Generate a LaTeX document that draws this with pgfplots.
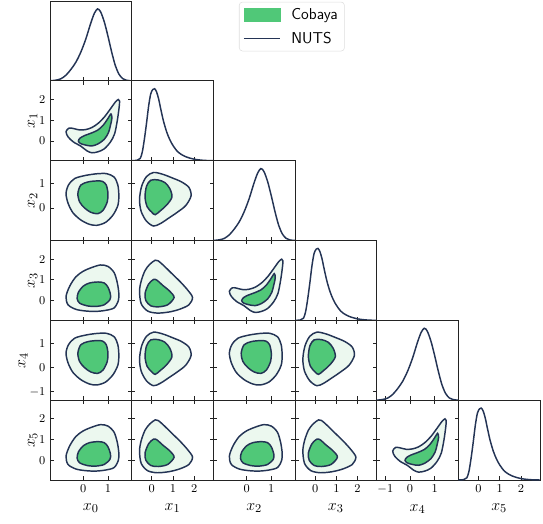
\documentclass[border=0pt]{standalone}
\usepackage{pgfplots}
\pgfplotsset{compat=1.18}
\usepackage{pgfplotstable}
\definecolor{nuts}{RGB}{36,52,85}
\definecolor{cobin}{RGB}{80,200,120}
\definecolor{cobout}{RGB}{236,248,239}
\definecolor{frame}{RGB}{35,35,35}

% ---- type A: banana (even var horizontal, paired odd var vertical)
\pgfplotstableread{
x y
1.42 2.00
1.30 1.88
1.10 1.55
0.85 1.15
0.60 0.85
0.35 0.65
0.10 0.55
-0.15 0.53
-0.40 0.60
-0.58 0.62
-0.70 0.45
-0.62 0.20
-0.40 -0.05
-0.10 -0.25
0.15 -0.48
0.35 -0.57
0.60 -0.52
0.85 -0.38
1.10 -0.05
1.27 0.35
1.38 1.00
1.45 1.60
1.47 1.92
}\Aout
\pgfplotstableread{
x y
1.12 1.30
0.98 1.05
0.80 0.75
0.58 0.52
0.30 0.37
0.05 0.26
-0.13 0.14
-0.20 0.00
-0.12 -0.12
0.10 -0.20
0.35 -0.24
0.60 -0.14
0.85 0.08
1.02 0.40
1.10 0.75
1.16 1.10
}\Ain
% ---- type B: even vs even
\pgfplotstableread{
x y
0.58 1.42
0.10 1.35
-0.35 1.22
-0.60 0.95
-0.70 0.60
-0.62 0.20
-0.42 -0.20
-0.10 -0.50
0.25 -0.68
0.55 -0.72
0.90 -0.60
1.20 -0.30
1.40 0.10
1.44 0.50
1.40 0.95
1.25 1.28
0.95 1.42
}\Bout
\pgfplotstableread{
x y
0.55 1.12
0.20 1.08
-0.10 0.95
-0.22 0.60
-0.15 0.25
0.05 0.00
0.30 -0.18
0.58 -0.24
0.80 -0.10
0.97 0.25
1.00 0.60
0.93 0.95
0.78 1.10
}\Bin
% ---- type C: even horizontal, odd vertical (unpaired)
\pgfplotstableread{
x y
0.70 1.72
0.35 1.60
0.00 1.42
-0.30 1.15
-0.55 0.70
-0.70 0.20
-0.62 -0.20
-0.30 -0.42
0.10 -0.50
0.50 -0.52
0.90 -0.47
1.25 -0.35
1.42 0.00
1.44 0.35
1.38 0.85
1.25 1.35
1.00 1.65
}\Cout
\pgfplotstableread{
x y
0.60 0.90
0.25 0.85
0.00 0.70
-0.20 0.40
-0.25 0.10
-0.15 -0.12
0.15 -0.25
0.50 -0.28
0.85 -0.20
1.08 0.05
1.10 0.30
1.00 0.65
0.85 0.85
}\Cin
% ---- type D: odd horizontal, even vertical
\pgfplotstableread{
x y
0.08 1.47
-0.25 1.30
-0.48 0.90
-0.58 0.35
-0.50 -0.15
-0.25 -0.55
0.08 -0.75
0.40 -0.65
0.80 -0.42
1.20 -0.18
1.60 0.10
1.85 0.50
1.75 0.85
1.40 1.08
0.95 1.25
0.50 1.40
}\Dout
\pgfplotstableread{
x y
-0.05 1.15
-0.25 0.90
-0.32 0.45
-0.22 0.05
0.00 -0.18
0.16 -0.28
0.40 -0.12
0.70 0.12
0.95 0.45
0.85 0.80
0.62 1.05
0.30 1.16
}\Din
% ---- type E: odd vs odd
\pgfplotstableread{
x y
0.16 1.95
-0.10 1.75
-0.32 1.45
-0.50 0.95
-0.58 0.45
-0.50 -0.15
-0.20 -0.50
0.25 -0.60
0.80 -0.55
1.30 -0.42
1.75 -0.20
1.92 0.15
1.70 0.50
1.35 0.90
0.95 1.30
0.55 1.70
0.30 1.92
}\Eout
\pgfplotstableread{
x y
0.08 1.02
-0.15 0.80
-0.32 0.35
-0.28 0.00
-0.05 -0.25
0.30 -0.30
0.75 -0.20
1.05 0.15
0.85 0.45
0.50 0.75
0.25 0.98
}\Ein
% ---- 1D densities
\pgfplotstableread{
x y
-1.35 0.0
-1.10 0.01
-0.90 0.03
-0.70 0.08
-0.50 0.16
-0.30 0.26
-0.10 0.40
0.10 0.58
0.30 0.80
0.45 0.94
0.58 1.00
0.70 0.96
0.85 0.82
1.00 0.62
1.15 0.40
1.30 0.21
1.45 0.09
1.60 0.03
1.75 0.008
1.96 0.0
}\Deven
\pgfplotstableread{
x y
-0.95 0.0
-0.70 0.005
-0.55 0.03
-0.45 0.12
-0.35 0.30
-0.25 0.52
-0.15 0.76
-0.05 0.93
0.05 0.99
0.13 1.00
0.22 0.96
0.32 0.86
0.42 0.72
0.55 0.55
0.70 0.40
0.85 0.29
1.00 0.21
1.20 0.13
1.40 0.085
1.60 0.055
1.80 0.035
2.00 0.02
2.30 0.008
2.60 0.002
2.90 0.0
}\Dodd

\pgfplotsset{
  tri/.style={scale only axis, width=61.25pt, height=59.875pt, anchor=north west,
    axis line style={draw=frame, line width=0.7pt},
    every tick/.style={draw=frame, line width=0.6pt},
    major tick length=2.8pt, tick align=inside,
    tick label style={font=\fontsize{9.5}{11}\selectfont},
    label style={font=\fontsize{13}{15}\selectfont},
    xlabel style={at={(ticklabel cs:0.5,1.5pt)}},
    ylabel style={at={(ticklabel cs:0.5,-5.5pt)}}},
  pos/.style 2 args={at={({37.5pt+61.25pt*#2},{-0.75pt-59.875pt*#1})}},
  xev/.style={xmin=-1.35,xmax=1.96,xtick={0,1}},
  xevf/.style={xmin=-1.35,xmax=1.96,xtick={-1,0,1}},
  xod/.style={xmin=-0.95,xmax=2.9,xtick={0,1,2}},
  yev/.style={ymin=-1.35,ymax=1.96,ytick={0,1}},
  yevf/.style={ymin=-1.35,ymax=1.96,ytick={-1,0,1}},
  yod/.style={ymin=-0.95,ymax=2.9,ytick={0,1,2}},
  noxl/.style={xticklabels={}},
  noyl/.style={yticklabels={}},
  diag/.style={tri, ymin=0, ymax=1.11, ytick=\empty, xtick pos=left},
  outer/.style={smooth cycle, fill=cobout, draw=nuts, line width=1.1pt},
  inner/.style={smooth cycle, fill=cobin, draw=nuts, line width=1.1pt},
  dens/.style={smooth, draw=nuts, line width=1.1pt},
}

\begin{document}
\begin{tikzpicture}
\path[use as bounding box] (0pt,0pt) rectangle (407.25pt,-393pt);

% row 0
\begin{axis}[diag, pos={0}{0}, xev, noxl,
  legend style={at={(2.314,0.99)}, anchor=north west, draw=black!13, rounded corners=2.5pt,
    font=\sffamily\fontsize{11.8}{13}\selectfont, inner xsep=3pt, inner ysep=2.5pt,
    row sep=4pt, cells={anchor=west},
    /tikz/every odd column/.append style={column sep=6pt}}]
\addlegendimage{legend image code/.code={\fill[cobin, sharp corners] (0pt,-4.7pt) rectangle (27pt,4.7pt);}}
\addlegendentry{Cobaya}
\addlegendimage{legend image code/.code={\draw[nuts,line width=1.1pt, sharp corners] (0pt,0pt) -- (27pt,0pt);}}
\addlegendentry{NUTS}
\addplot[dens, forget plot] table {\Deven};
\end{axis}

% row 1
\begin{axis}[tri, pos={1}{0}, xev, yod, noxl, ylabel={$x_1$}]
\addplot[outer] table {\Aout};
\addplot[inner] table {\Ain};
\end{axis}
\begin{axis}[diag, pos={1}{1}, xod, noxl]
\addplot[dens] table {\Dodd};
\end{axis}

% row 2
\begin{axis}[tri, pos={2}{0}, xev, yev, noxl, ylabel={$x_2$}]
\addplot[outer] table {\Bout};
\addplot[inner] table {\Bin};
\end{axis}
\begin{axis}[tri, pos={2}{1}, xod, yev, noxl, noyl]
\addplot[outer] table {\Dout};
\addplot[inner] table {\Din};
\end{axis}
\begin{axis}[diag, pos={2}{2}, xev, noxl]
\addplot[dens] table {\Deven};
\end{axis}

% row 3
\begin{axis}[tri, pos={3}{0}, xev, yod, noxl, ylabel={$x_3$}]
\addplot[outer] table {\Cout};
\addplot[inner] table {\Cin};
\end{axis}
\begin{axis}[tri, pos={3}{1}, xod, yod, noxl, noyl]
\addplot[outer] table {\Eout};
\addplot[inner] table {\Ein};
\end{axis}
\begin{axis}[tri, pos={3}{2}, xev, yod, noxl, noyl]
\addplot[outer] table {\Aout};
\addplot[inner] table {\Ain};
\end{axis}
\begin{axis}[diag, pos={3}{3}, xod, noxl]
\addplot[dens] table {\Dodd};
\end{axis}

% row 4
\begin{axis}[tri, pos={4}{0}, xev, yevf, noxl, ylabel={$x_4$}]
\addplot[outer] table {\Bout};
\addplot[inner] table {\Bin};
\end{axis}
\begin{axis}[tri, pos={4}{1}, xod, yevf, noxl, noyl]
\addplot[outer] table {\Dout};
\addplot[inner] table {\Din};
\end{axis}
\begin{axis}[tri, pos={4}{2}, xev, yevf, noxl, noyl]
\addplot[outer] table {\Bout};
\addplot[inner] table {\Bin};
\end{axis}
\begin{axis}[tri, pos={4}{3}, xod, yevf, noxl, noyl]
\addplot[outer] table {\Dout};
\addplot[inner] table {\Din};
\end{axis}
\begin{axis}[diag, pos={4}{4}, xevf, noxl]
\addplot[dens] table {\Deven};
\end{axis}

% row 5
\begin{axis}[tri, pos={5}{0}, xev, yod, ylabel={$x_5$}, xlabel={$x_0$}]
\addplot[outer] table {\Cout};
\addplot[inner] table {\Cin};
\end{axis}
\begin{axis}[tri, pos={5}{1}, xod, yod, noyl, xlabel={$x_1$}]
\addplot[outer] table {\Eout};
\addplot[inner] table {\Ein};
\end{axis}
\begin{axis}[tri, pos={5}{2}, xev, yod, noyl, xlabel={$x_2$}]
\addplot[outer] table {\Cout};
\addplot[inner] table {\Cin};
\end{axis}
\begin{axis}[tri, pos={5}{3}, xod, yod, noyl, xlabel={$x_3$}]
\addplot[outer] table {\Eout};
\addplot[inner] table {\Ein};
\end{axis}
\begin{axis}[tri, pos={5}{4}, xevf, yod, noyl, xlabel={$x_4$}]
\addplot[outer] table {\Aout};
\addplot[inner] table {\Ain};
\end{axis}
\begin{axis}[diag, pos={5}{5}, xod, xlabel={$x_5$}]
\addplot[dens] table {\Dodd};
\end{axis}
\end{tikzpicture}
\end{document}
